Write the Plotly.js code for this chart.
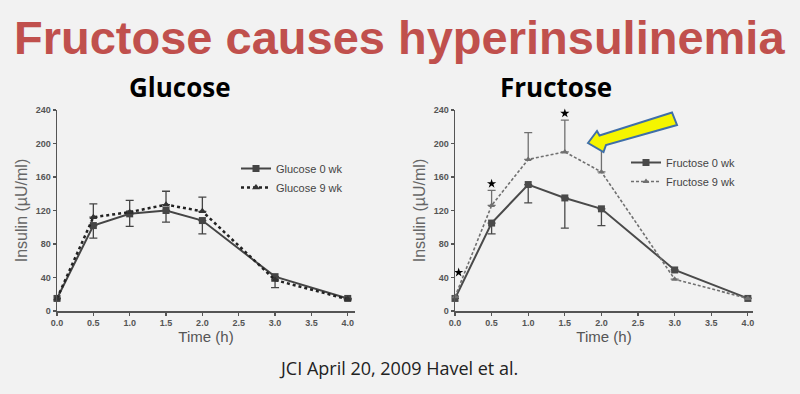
<!DOCTYPE html>
<html>
<head>
<meta charset="utf-8">
<script src="https://cdn.plot.ly/plotly-3.0.1.min.js"></script>
<style>html,body{margin:0;padding:0;background:#f2f2f2;}#chart{width:800px;height:394px;}</style>
</head>
<body>
<div id="chart"></div>
<script>
// ---- data ----
var timeH = [0, 0.5, 1.0, 1.5, 2.0, 3.0, 4.0];
var xTickVals = [0, 0.5, 1.0, 1.5, 2.0, 2.5, 3.0, 3.5, 4.0];
var xTickText = ['0.0','0.5','1.0','1.5','2.0','2.5','3.0','3.5','4.0'];
var yTickVals = [0, 40, 80, 120, 160, 200, 240];

var glucose0 = [15, 102, 116, 120, 108, 41, 15];
var glucose0ErrDown = [0, 15, 15, 14, 16, 13, 0];
var glucose9 = [15, 112, 118, 127, 119, 37, 14];
var glucose9ErrUp = [0, 16, 14, 16, 17, 0, 0];

var fructose0 = [15, 105, 151, 135, 122, 49, 15];
var fructose0ErrDown = [0, 13, 22, 36, 20, 0, 0];
var fructose9 = [17, 126, 181, 190, 166, 38, 15];
var fructose9ErrUp = [0, 18, 32, 38, 30, 0, 0];

var starX = [0.05, 0.5, 1.5];
var starY = [46, 152, 236];

var zeros = [0, 0, 0, 0, 0, 0, 0];

// ---- layout helpers ----
var W = 800, H = 394;
function px(x) { return x / W; }
function py(y) { return 1 - y / H; }

var traces = [
  {x: timeH, y: glucose0, name: 'Glucose 0 wk', mode: 'lines+markers', xaxis: 'x', yaxis: 'y', legend: 'legend',
   line: {color: '#454545', width: 2}, marker: {symbol: 'square', size: 7, color: '#454545'}, cliponaxis: false,
   error_y: {type: 'data', symmetric: false, array: zeros, arrayminus: glucose0ErrDown, color: '#454545', thickness: 1.3, width: 4}},
  {x: timeH, y: glucose9, name: 'Glucose 9 wk', mode: 'lines+markers', xaxis: 'x', yaxis: 'y', legend: 'legend',
   line: {color: '#222', width: 2.5, dash: 'dot'}, marker: {symbol: 'triangle-up', size: 7, color: '#333'}, cliponaxis: false,
   error_y: {type: 'data', symmetric: false, array: glucose9ErrUp, arrayminus: zeros, color: '#454545', thickness: 1.3, width: 4}},
  {x: timeH, y: fructose0, name: 'Fructose 0 wk', mode: 'lines+markers', xaxis: 'x2', yaxis: 'y2', legend: 'legend2',
   line: {color: '#4a4a4a', width: 2}, marker: {symbol: 'square', size: 7, color: '#4a4a4a'}, cliponaxis: false,
   error_y: {type: 'data', symmetric: false, array: zeros, arrayminus: fructose0ErrDown, color: '#4a4a4a', thickness: 1.3, width: 4}},
  {x: timeH, y: fructose9, name: 'Fructose 9 wk', mode: 'lines+markers', xaxis: 'x2', yaxis: 'y2', legend: 'legend2',
   line: {color: '#707070', width: 1.6, dash: '3px,2px'}, marker: {symbol: 'triangle-up', size: 6, color: '#707070'}, cliponaxis: false,
   error_y: {type: 'data', symmetric: false, array: fructose9ErrUp, arrayminus: zeros, color: '#707070', thickness: 1.3, width: 4}},
  {x: starX, y: starY, mode: 'markers', xaxis: 'x2', yaxis: 'y2', showlegend: false, cliponaxis: false,
   marker: {symbol: 'star', size: 7, color: '#000'}}
];

function xAxis(domain, rng, anchor) {
  return {domain: domain, range: rng, anchor: anchor, tickvals: xTickVals, ticktext: xTickText,
    showline: true, linecolor: '#555', linewidth: 1.5, ticks: 'outside', ticklen: 3, tickwidth: 1.2, tickcolor: '#555',
    showgrid: false, zeroline: false, fixedrange: true,
    tickfont: {family: 'Liberation Sans, Arial', size: 9, color: '#555', weight: 'bold'},
    title: {text: 'Time (h)', font: {family: 'Liberation Sans, Arial', size: 15, color: '#555'}, standoff: 2}};
}
function yAxis(domain, anchor) {
  return {domain: domain, range: [0, 240], anchor: anchor, tickvals: yTickVals,
    showline: true, linecolor: '#555', linewidth: 1.5, ticks: 'outside', ticklen: 3, tickwidth: 1.2, tickcolor: '#555',
    showgrid: false, zeroline: false, fixedrange: true,
    tickfont: {family: 'Liberation Sans, Arial', size: 9, color: '#555', weight: 'bold'},
    title: {text: 'Insulin (\u00b5U/ml)', font: {family: 'Liberation Sans, Arial', size: 16, color: '#666'}, standoff: 4}};
}

var yDom = [py(311), py(110)];

// block arrow outline in pixel space
var arrowPx = [[588,143],[597,131],[599.5,135.5],[672,112.5],[677,125],[606,145],[603.5,152]];
var arrowPath = arrowPx.map(function (p, i) { return (i ? 'L' : 'M') + px(p[0]).toFixed(5) + ',' + py(p[1]).toFixed(5); }).join(' ') + ' Z';

var layout = {
  width: W, height: H,
  margin: {l: 0, r: 0, t: 0, b: 0},
  paper_bgcolor: '#f2f2f2', plot_bgcolor: 'rgba(0,0,0,0)',
  xaxis: xAxis([px(57), px(355)], [0, 4.1], 'y'),
  yaxis: yAxis(yDom, 'x'),
  xaxis2: xAxis([px(455), px(753)], [0, 4.07], 'y2'),
  yaxis2: yAxis(yDom, 'x2'),
  legend: {x: px(236), y: py(154), xanchor: 'left', yanchor: 'top', bgcolor: 'rgba(0,0,0,0)',
    font: {family: 'Liberation Sans, Arial', size: 11, color: '#444'}, tracegroupgap: 0, itemwidth: 30},
  legend2: {x: px(626), y: py(148), xanchor: 'left', yanchor: 'top', bgcolor: 'rgba(0,0,0,0)',
    font: {family: 'Liberation Sans, Arial', size: 11, color: '#444'}, tracegroupgap: 0, itemwidth: 30},
  shapes: [{type: 'path', xref: 'paper', yref: 'paper', path: arrowPath,
    fillcolor: '#f5f500', line: {color: '#3f6fa8', width: 2}}],
  annotations: [
    {text: 'Fructose causes hyperinsulinemia', xref: 'paper', yref: 'paper', x: px(399), y: py(38), showarrow: false,
     xanchor: 'center', yanchor: 'middle', font: {family: 'Liberation Sans, Arial', size: 47, color: '#c0504d', weight: 'bold'}},
    {text: 'Glucose', xref: 'paper', yref: 'paper', x: px(180), y: py(87), showarrow: false,
     xanchor: 'center', yanchor: 'middle', font: {family: 'Open Sans', size: 26, color: '#000', weight: 'bold'}},
    {text: 'Fructose', xref: 'paper', yref: 'paper', x: px(556), y: py(87), showarrow: false,
     xanchor: 'center', yanchor: 'middle', font: {family: 'Open Sans', size: 26, color: '#000', weight: 'bold'}},
    {text: 'JCI April 20, 2009 Havel et al.', xref: 'paper', yref: 'paper', x: px(398), y: py(368), showarrow: false,
     xanchor: 'center', yanchor: 'middle', font: {family: 'Open Sans', size: 18, color: '#222'}}
  ]
};

Plotly.newPlot('chart', traces, layout, {staticPlot: true, displayModeBar: false});
</script>
</body>
</html>
